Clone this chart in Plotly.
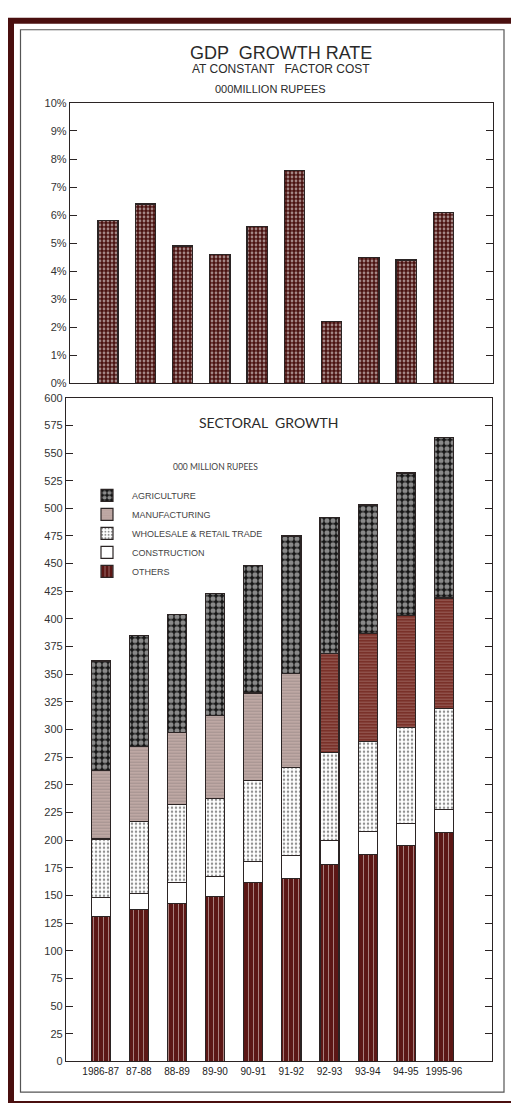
import plotly.graph_objects as go

W, H = 511, 1103

# ---- data -------------------------------------------------------------
periods = ["1986-87", "87-88", "88-89", "89-90", "90-91",
           "91-92", "92-93", "93-94", "94-95", "1995-96"]

gdp_growth = [5.8, 6.4, 4.9, 4.6, 5.6, 7.6, 2.2, 4.5, 4.4, 6.1]
pct_tick_vals = list(range(0, 11))
pct_tick_text = [f"{v}%" for v in pct_tick_vals]

others = [131, 137, 143, 149, 162, 165, 178, 187, 195, 207]
construction = [17, 15, 19, 18, 19, 21, 22, 21, 20, 21]
wholesale = [53, 65, 70, 71, 73, 80, 79, 81, 87, 91]
manufacturing = [62, 68, 65, 75, 79, 85, 90, 98, 101, 100]
agriculture = [99, 100, 107, 110, 115, 124, 123, 116, 129, 145]
sector_tick_vals = list(range(0, 601, 25))


# ---- helpers: pixel -> paper fraction ---------------------------------
def fx(px):
    return px / W


def fy(py):
    return 1 - py / H


INK = "#2b2424"
MAROON = "#5c1715"
xs = list(range(len(periods)))

fig = go.Figure()

# GDP growth bars: dark maroon grid with small white cells
fig.add_trace(go.Bar(
    x=xs, y=gdp_growth, xaxis="x", yaxis="y", width=0.54,
    marker=dict(color="#4a1210", line=dict(color=INK, width=1.3),
                pattern=dict(shape=".", fgcolor="white", bgcolor="#4a1210",
                             size=4, solidity=0.38)),
    showlegend=False, hoverinfo="x+y",
))

# Sectoral stacked bars (bottom to top)
early, late = "#bea8a4", "#7a3129"
sectors = [
    ("OTHERS", others, dict(color=MAROON,
                            pattern=dict(shape="|", fgcolor="#f3e9e6", bgcolor=MAROON,
                                         size=5, solidity=0.2))),
    ("CONSTRUCTION", construction, dict(color="white")),
    ("WHOLESALE & RETAIL TRADE", wholesale,
     dict(color="white", pattern=dict(shape=".", fgcolor="#222", bgcolor="white",
                                      size=4, solidity=0.3))),
    ("MANUFACTURING", manufacturing,
     dict(color=[early] * 6 + [late] * 4,
          pattern=dict(shape="-", fgcolor=["#a89290"] * 6 + ["#6a251e"] * 4,
                       size=3, solidity=0.15))),
    ("AGRICULTURE", agriculture,
     dict(color="#151515", pattern=dict(shape=".", fgcolor="white", bgcolor="#151515",
                                        size=6, solidity=0.56))),
]
for name, vals, mk in sectors:
    mk = dict(mk)
    mk["line"] = dict(color=INK, width=1.2)
    fig.add_trace(go.Bar(
        x=xs, y=vals, name=name, xaxis="x2", yaxis="y2", width=0.5,
        marker=mk, hoverinfo="name+y",
    ))

tick_font = dict(family="Liberation Sans, Arial, sans-serif", size=11, color="#333")
axis_common = dict(showline=True, linecolor=INK, linewidth=1.3, showgrid=False,
                   zeroline=False, fixedrange=True)

fig.update_layout(
    width=W, height=H,
    margin=dict(l=0, r=0, t=0, b=0),
    paper_bgcolor="white", plot_bgcolor="white",
    barmode="stack",
    showlegend=True,
    legend=dict(x=fx(82), y=fy(480), xanchor="left", yanchor="top",
                traceorder="reversed", bgcolor="rgba(0,0,0,0)", itemwidth=40,
                font=dict(family="Liberation Sans, Arial, sans-serif", size=9, color="#444"),
                itemclick=False, itemdoubleclick=False),
    xaxis=dict(domain=[fx(70), fx(493)], range=[-1.02, 10.33], anchor="y",
               showticklabels=False, ticks="", mirror=True, **axis_common),
    yaxis=dict(domain=[fy(381.6), fy(98)], range=[0, 10], anchor="x",
               tickvals=pct_tick_vals, ticktext=pct_tick_text,
               ticks="inside", ticklen=7, tickwidth=1.3, tickcolor=INK,
               mirror="ticks", tickfont=tick_font, **axis_common),
    xaxis2=dict(domain=[fx(66), fx(492)], range=[-0.91, 10.26], anchor="y2",
                tickvals=xs, ticktext=periods, ticks="", mirror=True,
                tickfont=dict(family="Liberation Sans, Arial, sans-serif", size=10, color="#222"),
                **axis_common),
    yaxis2=dict(domain=[fy(1067), fy(396)], range=[0, 600], anchor="x2",
                tickvals=sector_tick_vals, ticks="inside", ticklen=7, tickwidth=1.3,
                tickcolor=INK, mirror="ticks", tickfont=tick_font, **axis_common),
)

# titles and captions
def label(text, x, y, size, family="Liberation Sans, Arial, sans-serif", color="#2a2a2a"):
    fig.add_annotation(text=text, x=fx(x), y=fy(y), xref="paper", yref="paper",
                       showarrow=False, xanchor="center", yanchor="middle",
                       font=dict(family=family, size=size, color=color))


label("GDP  GROWTH RATE", 281, 48, 18)
label("AT CONSTANT   FACTOR COST", 281, 64, 12)
label("000MILLION RUPEES", 270, 84, 11)
label("SECTORAL  GROWTH", 268, 421, 14, family="Lato, Liberation Sans, sans-serif")
label("000 MILLION RUPEES", 215, 466, 8.5, family="Lato, Liberation Sans, sans-serif",
      color="#444")

# decorative frame: heavy maroon border and thin inner rule
fig.add_shape(type="rect", xref="paper", yref="paper",
              x0=fx(11), x1=fx(514), y0=fy(1110), y1=fy(15),
              line=dict(color="#4a0f0f", width=6), fillcolor="rgba(0,0,0,0)", layer="below")
fig.add_shape(type="rect", xref="paper", yref="paper",
              x0=fx(20.5), x1=fx(504), y0=fy(1098), y1=fy(24),
              line=dict(color="#555", width=1.2), fillcolor="rgba(0,0,0,0)", layer="below")

fig.write_html("out.html")
